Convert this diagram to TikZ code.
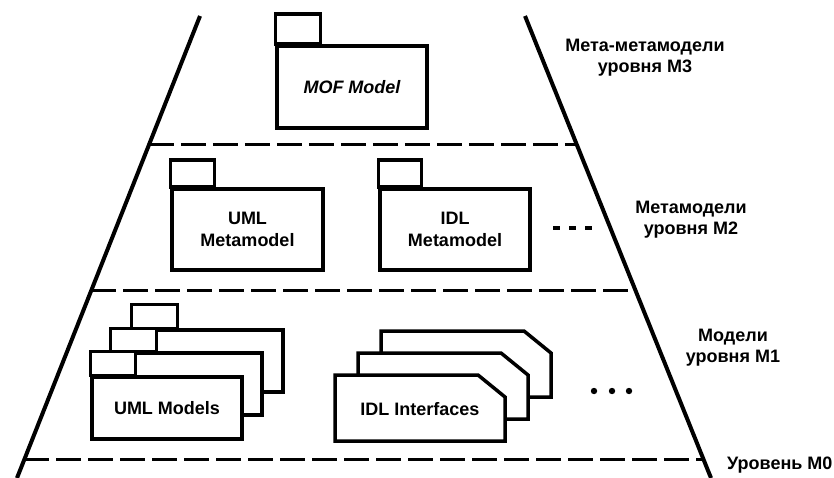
\documentclass[tikz,border=0pt]{standalone}
\usepackage{fontspec}
\setmainfont{Liberation Sans}
\usetikzlibrary{calc}
\begin{document}
\begin{tikzpicture}[x=1pt,y=-1pt,
  edge/.style={line width=4pt},
  level/.style={line width=3pt, dash pattern=on 25pt off 7pt},
  pkg/.style={draw, line width=3.5pt, fill=white, inner sep=0pt},
  pkgline/.style={draw, line width=3.5pt, fill=white},
  txt/.style={font=\fontsize{18}{22}\selectfont\bfseries, align=center},
  lbl/.style={font=\fontsize{18}{21}\selectfont\bfseries, align=center, inner sep=0pt},
]
\useasboundingbox (0,0) rectangle (834,478);
% sides of the pyramid
\coordinate (Ltop) at (200,16);
\coordinate (Lbot) at (17,478);
\coordinate (Rtop) at (525,16);
\coordinate (Rbot) at (711,478);
\draw[edge] (Ltop) -- (Lbot);
\draw[edge] (Rtop) -- (Rbot);
% level separators
\coordinate (L1) at ($(Ltop)!0.2792!(Lbot)$);
\coordinate (R1) at ($(Rtop)!0.2792!(Rbot)$);
\coordinate (L2) at ($(Ltop)!0.5931!(Lbot)$);
\coordinate (R2) at ($(Rtop)!0.5931!(Rbot)$);
\coordinate (L3) at ($(Ltop)!0.961!(Lbot)$);
\coordinate (R3) at ($(Rtop)!0.961!(Rbot)$);
\draw[level] (L1) -- (R1);
\draw[level] (L2) -- (R2);
\draw[level] (L3) -- (R3);

% M3
\node[pkg, minimum width=150pt, minimum height=82pt,
      font=\fontsize{18}{22}\selectfont\bfseries\itshape] (mof) at (352,87) {MOF Model};
\draw[pkgline] (mof.north west) rectangle ++(45,-30);

% M2
\node[pkg, txt, minimum width=151pt, minimum height=81pt] (umlmeta) at (247.5,229.5) {UML\\Metamodel};
\draw[pkgline] (umlmeta.north west) rectangle ++(44,-27);
\node[pkg, txt, minimum width=150pt, minimum height=81pt] (idlmeta) at (455,229.5) {IDL\\Metamodel};
\draw[pkgline] (idlmeta.north west) rectangle ++(43,-27);
\coordinate (d2a) at (553,228);
\coordinate (d2b) at (593,228);
\draw[line width=4pt, dash pattern=on 7pt off 9pt] (d2a) -- (d2b);

% M1: UML models stack
\node[pkg, minimum width=150pt, minimum height=62pt] (umlB) at (208,361) {};
\draw[pkgline] (umlB.north west) rectangle ++(46,-24);
\node[pkg, minimum width=150pt, minimum height=62pt] (umlM) at (187,384) {};
\draw[pkgline] (umlM.north west) rectangle ++(46,-23);
\node[pkg, txt, minimum width=150pt, minimum height=62pt] (umlF) at (167,408) {UML Models};
\draw[pkgline] (umlF.north west) rectangle ++(45,-24);

% M1: IDL interfaces stack
\coordinate (idlBnw) at (381,331);
\coordinate (idlMnw) at (358,353);
\coordinate (idlFnw) at (335,375);
\draw[pkgline] (idlBnw) -- ++(143,0) -- ++(27,22) -- ++(0,44) -- ++(-170,0) -- cycle;
\draw[pkgline] (idlMnw) -- ++(143,0) -- ++(27,22) -- ++(0,44) -- ++(-170,0) -- cycle;
\draw[pkgline] (idlFnw) -- ++(143,0) -- ++(27,22) -- ++(0,44) -- ++(-170,0) -- cycle;
\node[txt] (idlF) at ($(idlFnw)+(85,34)$) {IDL Interfaces};

\foreach \x [count=\i] in {594,612,629} \fill (\x,391) coordinate (dot\i) circle (3.2pt);

% level labels
\node[lbl] (m3) at (645,58) {Мета-метамодели\\уровня М3};
\node[lbl] (m2) at (691,220) {Метамодели\\уровня М2};
\node[lbl] (m1) at (733,348) {Модели\\уровня М1};
\node[lbl, anchor=west] (m0) at (727,465) {Уровень М0};
\end{tikzpicture}
\end{document}
